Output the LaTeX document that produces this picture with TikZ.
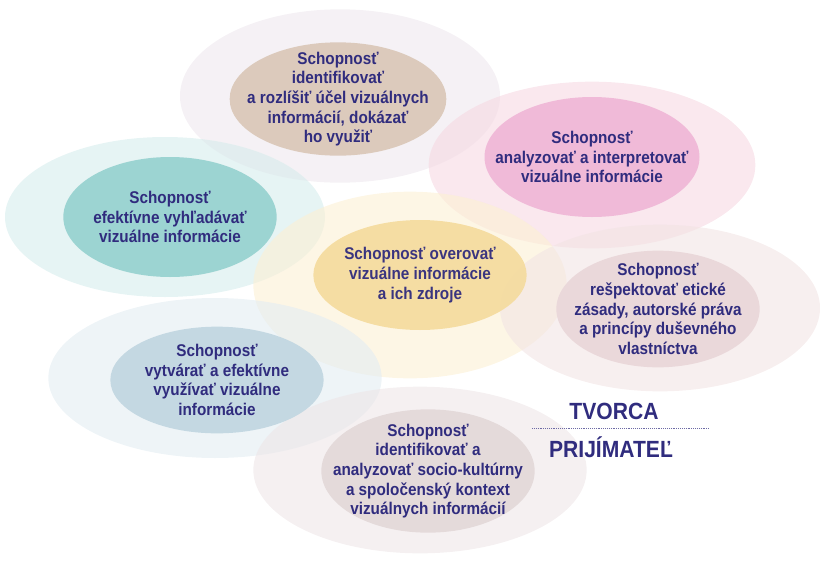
\documentclass[tikz,border=0pt]{standalone}
\usepackage{fontspec}
\newfontfamily\skillfont{Liberation Sans Bold}[FakeStretch=0.9]
\usetikzlibrary{shapes.geometric}

\definecolor{textblue}{RGB}{48,44,126}
\definecolor{tanin}{RGB}{220,202,188}
\definecolor{pinkin}{RGB}{240,186,216}
\definecolor{tealin}{RGB}{156,212,210}
\definecolor{yellowin}{RGB}{245,220,160}
\definecolor{rosein}{RGB}{234,216,218}
\definecolor{bluein}{RGB}{196,216,226}
\definecolor{greyin}{RGB}{228,218,218}
\definecolor{tanout}{RGB}{238,232,238}
\definecolor{pinkout}{RGB}{246,216,226}
\definecolor{tealout}{RGB}{214,236,236}
\definecolor{yellowout}{RGB}{252,240,212}
\definecolor{roseout}{RGB}{242,228,228}
\definecolor{blueout}{RGB}{226,236,242}
\definecolor{greyout}{RGB}{238,230,232}

\tikzset{
  skill/.style={ellipse, inner xsep=-40pt, inner ysep=-25pt, align=center, text=textblue,
    font=\skillfont\fontsize{14.5}{16.8}\selectfont},
  label/.style={text=textblue, font=\skillfont\fontsize{20}{24}\selectfont}
}

\begin{document}
\begin{tikzpicture}[x=0.3mm, y=-0.3mm]
  \useasboundingbox (0,0) rectangle (820,563);

  % Vonkajšie elipsy
  \foreach \cx/\cy/\rx/\ry/\col in {340/96/48/26/tanout, 592/165/49/25/pinkout,
      165/217/48/24/tealout, 410/285/47/28/yellowout, 660/308/48/25/roseout,
      215/378/50/24/blueout, 420/470/50/25/greyout} {
    \fill[\col, opacity=0.6] (\cx,\cy) ellipse [x radius=\rx mm, y radius=\ry mm];
  }

  % Vnútorné elipsy s textom
  \node[skill, fill=tanin, minimum width=65mm, minimum height=34mm]
    (ucel) at (338,99) {Schopnosť\\identifikovať\\a rozlíšiť účel vizuálnych\\informácií, dokázať\\ho využiť};
  \node[skill, fill=pinkin, minimum width=64.5mm, minimum height=36mm]
    (analyza) at (592,157) {Schopnosť\\analyzovať a interpretovať\\vizuálne informácie};
  \node[skill, fill=tealin, minimum width=64mm, minimum height=36mm]
    (hladanie) at (170,217) {Schopnosť\\efektívne vyhľadávať\\vizuálne informácie};
  \node[skill, fill=yellowin, opacity=0.95, minimum width=64mm, minimum height=33mm]
    (overovanie) at (420,275) {Schopnosť overovať\\vizuálne informácie\\a ich zdroje};
  \node[skill, fill=rosein, minimum width=61mm, minimum height=35mm]
    (etika) at (658,309) {Schopnosť\\rešpektovať etické\\zásady, autorské práva\\a princípy duševného\\vlastníctva};
  \node[skill, fill=bluein, minimum width=64mm, minimum height=32mm]
    (tvorba) at (217,380) {Schopnosť\\vytvárať a efektívne\\využívať vizuálne\\informácie};
  \node[skill, fill=greyin, minimum width=64mm, minimum height=37mm]
    (kontext) at (428,471) {Schopnosť\\identifikovať a\\analyzovať socio-kultúrny\\a spoločenský kontext\\vizuálnych informácií};

  % Tvorca / prijímateľ
  \node[label] (tvorca) at (614,411) {TVORCA};
  \node[label] (prijimatel) at (611,447) {PRIJÍMATEĽ};
  \draw[textblue!70, densely dotted, line width=0.6pt] (532,428) -- (710,428);
\end{tikzpicture}
\end{document}
